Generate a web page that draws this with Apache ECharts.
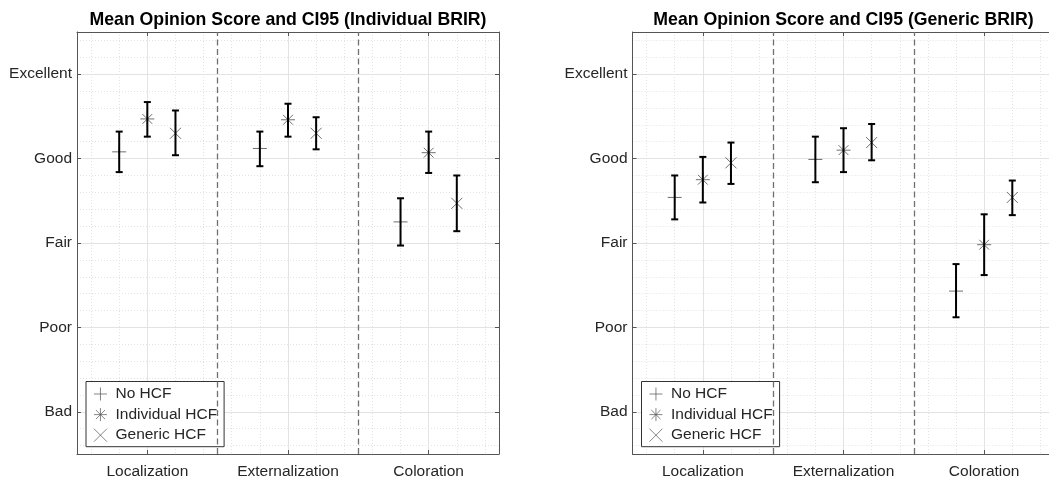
<!DOCTYPE html>
<html>
<head>
<meta charset="utf-8">
<title>Mean Opinion Score and CI95</title>
<script src="https://cdn.jsdelivr.net/npm/echarts@6/dist/echarts.min.js"></script>
<style>
html, body { margin: 0; padding: 0; background: #fff; }
#chart { width: 1049px; height: 480px; }
</style>
</head>
<body>
<div id="chart"></div>
<script>
const categories = ['Localization', 'Externalization', 'Coloration'];
const ratingLabels = ['Bad', 'Poor', 'Fair', 'Good', 'Excellent'];
const conditions = ['No HCF', 'Individual HCF', 'Generic HCF'];
const panelTitles = ['Mean Opinion Score and CI95 (Individual BRIR)', 'Mean Opinion Score and CI95 (Generic BRIR)'];
const separators = [1.5, 2.5];

// Individual BRIR: mean and CI95 bounds per category
const indNoMean = [4.08, 4.12, 3.25];
const indNoLow = [3.84, 3.91, 2.97];
const indNoHigh = [4.32, 4.32, 3.53];
const indIndMean = [4.47, 4.46, 4.07];
const indIndLow = [4.26, 4.26, 3.83];
const indIndHigh = [4.67, 4.65, 4.32];
const indGenMean = [4.30, 4.30, 3.47];
const indGenLow = [4.04, 4.11, 3.14];
const indGenHigh = [4.57, 4.49, 3.80];

// Generic BRIR
const genNoMean = [3.54, 3.99, 2.43];
const genNoLow = [3.28, 3.72, 2.12];
const genNoHigh = [3.80, 4.26, 2.75];
const genIndMean = [3.75, 4.10, 2.98];
const genIndLow = [3.48, 3.84, 2.62];
const genIndHigh = [4.02, 4.36, 3.34];
const genGenMean = [3.95, 4.19, 3.54];
const genGenLow = [3.70, 3.98, 3.33];
const genGenHigh = [4.19, 4.41, 3.74];

const panels = [
	{
		means: [indNoMean, indIndMean, indGenMean],
		lows: [indNoLow, indIndLow, indGenLow],
		highs: [indNoHigh, indIndHigh, indGenHigh]
	},
	{
		means: [genNoMean, genIndMean, genGenMean],
		lows: [genNoLow, genIndLow, genGenLow],
		highs: [genNoHigh, genIndHigh, genGenHigh]
	}
];

const gridLefts = [77, 632.5];
const plotSize = 422;
const dodge = 0.2;
const font = '"Liberation Sans", Arial, Helvetica, sans-serif';
const textColor = '#262626';
const axisColor = '#555';
const markerColor = '#4a4a4a';

const markerSymbols = [
	'path://M0,-1L0,1M-1,0L1,0',
	'path://M0,-1L0,1M-1,0L1,0M-0.7,-0.7L0.7,0.7M-0.7,0.7L0.7,-0.7',
	'path://M-1,-1L1,1M-1,1L1,-1'
];
const markerSizes = [14, 14, 11];

function isWhole(v) {
	return Math.abs(v - Math.round(v)) < 1e-6;
}

function renderErrorBar(params, api) {
	const x = api.value(0);
	const top = api.coord([x, api.value(2)]);
	const bot = api.coord([x, api.value(1)]);
	const cap = 3.5;
	const style = { stroke: '#000', lineWidth: 2 };
	return {
		type: 'group',
		children: [
			{ type: 'line', shape: { x1: top[0], y1: top[1], x2: bot[0], y2: bot[1] }, style },
			{ type: 'line', shape: { x1: top[0] - cap, y1: top[1], x2: top[0] + cap, y2: top[1] }, style },
			{ type: 'line', shape: { x1: bot[0] - cap, y1: bot[1], x2: bot[0] + cap, y2: bot[1] }, style }
		]
	};
}

const grids = [];
const xAxes = [];
const yAxes = [];
const series = [];
const legends = [];
const graphics = [];

panels.forEach((p, pi) => {
	grids.push({
		left: gridLefts[pi], top: 32, width: plotSize, height: plotSize,
		outerBoundsMode: 'none', containLabel: false
	});

	// bottom axis with labels and grid lines
	xAxes.push({
		gridIndex: pi, type: 'value', min: 0.5, max: 3.5, splitNumber: 3, position: 'bottom',
		axisLine: { show: true, onZero: false, lineStyle: { color: axisColor, width: 1 } },
		axisTick: { show: true, inside: true, length: 4, lineStyle: { color: axisColor } },
		axisLabel: {
			margin: 10, color: textColor, fontFamily: font, fontSize: 15.5,
			formatter: v => isWhole(v) ? categories[Math.round(v) - 1] : ''
		},
		splitLine: { show: true, lineStyle: { color: '#e3e3e3', width: 1 } },
		minorTick: { show: false, splitNumber: 5 },
		minorSplitLine: { show: true, lineStyle: { color: '#e3e3e3', width: 1, type: [1, 2] } }
	});
	// top box edge
	xAxes.push({
		gridIndex: pi, type: 'value', min: 0.5, max: 3.5, splitNumber: 3, position: 'top',
		axisLine: { show: true, onZero: false, lineStyle: { color: axisColor, width: 1 } },
		axisTick: { show: true, inside: true, length: 4, lineStyle: { color: axisColor } },
		axisLabel: { show: false },
		splitLine: { show: false }
	});

	yAxes.push({
		gridIndex: pi, type: 'value', min: 0.5, max: 5.5, splitNumber: 5, position: 'left',
		axisLine: { show: true, onZero: false, lineStyle: { color: axisColor, width: 1 } },
		axisTick: { show: true, inside: true, length: 4, lineStyle: { color: axisColor } },
		axisLabel: {
			margin: 5, color: textColor, fontFamily: font, fontSize: 15.5,
			formatter: v => isWhole(v) ? ratingLabels[Math.round(v) - 1] : ''
		},
		splitLine: { show: true, lineStyle: { color: '#e3e3e3', width: 1 } },
		minorTick: { show: false, splitNumber: 5 },
		minorSplitLine: { show: true, lineStyle: { color: '#e3e3e3', width: 1, type: [1, 2] } }
	});
	yAxes.push({
		gridIndex: pi, type: 'value', min: 0.5, max: 5.5, splitNumber: 5, position: 'right',
		axisLine: { show: true, onZero: false, lineStyle: { color: axisColor, width: 1 } },
		axisTick: { show: true, inside: true, length: 4, lineStyle: { color: axisColor } },
		axisLabel: { show: false },
		splitLine: { show: false }
	});

	conditions.forEach((name, ci) => {
		const off = (ci - 1) * dodge;
		const xs = categories.map((c, k) => k + 1 + off);
		const markerSeries = {
			type: 'scatter', name: name,
			xAxisIndex: pi * 2, yAxisIndex: pi * 2,
			symbol: markerSymbols[ci], symbolSize: markerSizes[ci], symbolKeepAspect: true,
			itemStyle: { color: 'transparent', borderColor: markerColor, borderWidth: 1 },
			emphasis: { disabled: true },
			data: xs.map((x, k) => [x, p.means[ci][k]]),
			z: 3
		};
		if (ci === 0) {
			markerSeries.markLine = {
				silent: true, symbol: ['none', 'none'], label: { show: false },
				lineStyle: { color: '#707070', width: 1.3, type: [6, 3.5] },
				data: separators.map(v => ({ xAxis: v }))
			};
		}
		series.push(markerSeries);
		series.push({
			type: 'custom', name: 'CI95 ' + name,
			xAxisIndex: pi * 2, yAxisIndex: pi * 2,
			renderItem: renderErrorBar,
			encode: { x: 0, y: [1, 2] },
			data: xs.map((x, k) => [x, p.lows[ci][k], p.highs[ci][k]]),
			z: 4
		});
	});

	legends.push({
		data: conditions,
		orient: 'vertical',
		left: gridLefts[pi] + 9, top: 381.5,
		itemWidth: 20, itemHeight: 13, itemGap: 4.6,
		padding: [4.5, 7, 3.5, 7.5],
		backgroundColor: '#fff', borderColor: '#333', borderWidth: 1,
		selectedMode: false,
		itemStyle: { color: 'transparent', borderColor: '#555', borderWidth: 0.9 },
		textStyle: { color: textColor, fontFamily: font, fontSize: 15.5 }
	});

	graphics.push({
		type: 'text', x: gridLefts[pi] + plotSize / 2, y: 20,
		style: {
			text: panelTitles[pi], fill: '#000', textAlign: 'center', textVerticalAlign: 'middle',
			font: 'bold 17.7px ' + font
		}
	});
});

const option = {
	animation: false,
	backgroundColor: '#fff',
	grid: grids,
	xAxis: xAxes,
	yAxis: yAxes,
	legend: legends,
	graphic: graphics,
	series: series
};

const chart = echarts.init(document.getElementById('chart'));
chart.setOption(option);
</script>
</body>
</html>
